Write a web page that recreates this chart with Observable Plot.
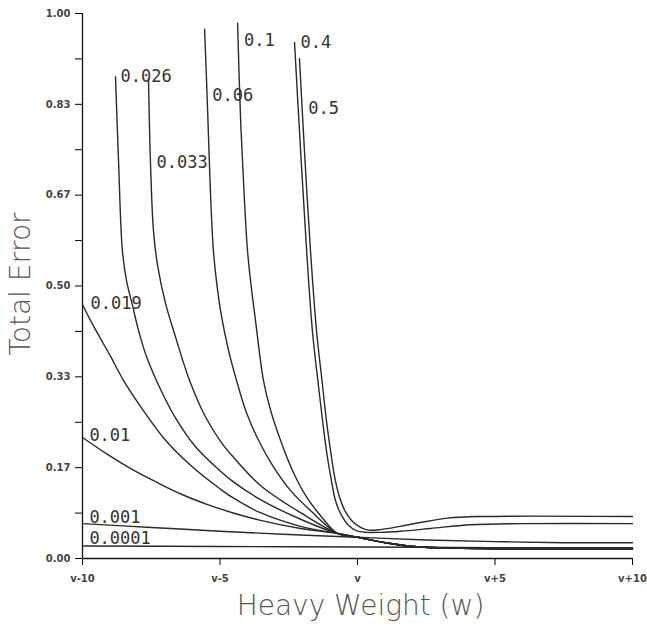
<!DOCTYPE html>
<html>
<head>
<meta charset="utf-8">
<script src="https://cdn.jsdelivr.net/npm/d3@7"></script>
<script src="https://cdn.jsdelivr.net/npm/@observablehq/plot@0.6"></script>
<style>
  html, body { margin: 0; padding: 0; background: #fff; }
</style>
</head>
<body>
<div id="chart"></div>
<script>
// Learning-rate labels of each curve
const rates = ["0.0001", "0.001", "0.01", "0.019", "0.026", "0.033", "0.06", "0.1", "0.4", "0.5"];

// Curve points: [w offset from v, total error]
const c0001 = [[-10,0.023],[-5,0.022],[0,0.021],[5,0.020],[10,0.020]];
const c001 = [[-10,0.064],[-7.5,0.057],[-5,0.050],[-2.5,0.044],[0,0.039],[2.5,0.034],[5,0.031],[7.5,0.029],[10,0.029]];
const c01 = [[-10,0.222],[-9.09,0.191],[-8.18,0.163],[-7.27,0.139],[-6.36,0.117],[-5.45,0.099],[-4.55,0.084],[-3.53,0.070],[-2.07,0.055],[-0.73,0.046],[0,0.039],[1.02,0.029],[2.04,0.022],[3.4,0.019],[10,0.018]];
const c019 = [[-10,0.466],[-9.71,0.437],[-9.35,0.404],[-8.98,0.371],[-8.51,0.327],[-7.71,0.266],[-6.98,0.217],[-6.07,0.171],[-4.98,0.127],[-4.55,0.112],[-3.53,0.084],[-2.07,0.059],[-0.73,0.046],[0,0.039],[1.02,0.029],[2.04,0.022],[3.4,0.019],[10,0.018]];
const c026 = [[-8.8,0.884],[-8.69,0.73],[-8.55,0.565],[-8.4,0.51],[-8.18,0.464],[-7.96,0.418],[-7.67,0.37],[-7.16,0.31],[-6.62,0.258],[-5.89,0.205],[-4.98,0.16],[-4.55,0.142],[-3.53,0.108],[-2.07,0.072],[-0.73,0.046],[0,0.039],[1.02,0.029],[2.04,0.022],[3.4,0.019],[10,0.018]];
const c033 = [[-7.6,0.881],[-7.53,0.73],[-7.42,0.602],[-7.27,0.538],[-6.98,0.468],[-6.62,0.407],[-6.11,0.327],[-5.53,0.26],[-4.98,0.215],[-4.55,0.188],[-3.53,0.134],[-2.07,0.084],[-0.73,0.046],[0,0.039],[1.02,0.029],[2.04,0.022],[3.4,0.019],[10,0.018]];
const c06 = [[-5.56,0.971],[-5.45,0.822],[-5.35,0.675],[-5.24,0.565],[-5.13,0.51],[-4.95,0.446],[-4.69,0.382],[-4.4,0.327],[-4.04,0.268],[-3.6,0.217],[-3.09,0.171],[-2.44,0.125],[-1.71,0.088],[-0.73,0.046],[0,0.039],[1.02,0.029],[2.04,0.022],[3.4,0.019],[10,0.018]];
const c1 = [[-4.36,0.982],[-4.25,0.804],[-4.11,0.657],[-4.0,0.565],[-3.89,0.51],[-3.71,0.437],[-3.42,0.327],[-3.16,0.272],[-2.8,0.217],[-2.36,0.161],[-1.89,0.116],[-1.35,0.079],[-0.73,0.046],[0,0.039],[1.02,0.029],[2.04,0.022],[3.4,0.019],[10,0.018]];
const c4 = [[-2.29,0.947],[-2.07,0.749],[-1.85,0.565],[-1.64,0.418],[-1.42,0.317],[-1.27,0.253],[-1.13,0.198],[-0.98,0.152],[-0.8,0.106],[-0.58,0.079],[-0.33,0.061],[-0.04,0.051],[0.33,0.048],[0.84,0.048],[1.56,0.05],[2.65,0.055],[4.11,0.062],[5.93,0.064],[10,0.064]];
const c5 = [[-2.11,0.917],[-1.93,0.749],[-1.71,0.565],[-1.49,0.418],[-1.27,0.317],[-1.13,0.253],[-0.98,0.198],[-0.84,0.152],[-0.65,0.112],[-0.44,0.086],[-0.18,0.068],[0.11,0.057],[0.4,0.052],[0.84,0.053],[1.56,0.059],[2.29,0.066],[3.27,0.074],[4.47,0.077],[10,0.077]];
const curves = [c0001, c001, c01, c019, c026, c033, c06, c1, c4, c5];

// Curve label positions
const labelX = [-9.75, -9.75, -9.75, -9.71, -8.62, -7.31, -5.28, -4.13, -2.07, -1.79];
const labelY = [0.037, 0.075, 0.226, 0.468, 0.884, 0.727, 0.85, 0.95, 0.947, 0.825];

// Axis ticks
const xTicks = [-10, -5, 0, 5, 10];
const xTickLabels = ["v-10", "v-5", "v", "v+5", "v+10"];
const yTicks = [0, 1/6, 2/6, 3/6, 4/6, 5/6, 1];
const yTickLabels = ["0.00", "0.17", "0.33", "0.50", "0.67", "0.83", "1.00"];
const yMinorTicks = [1/12, 3/12, 5/12, 7/12, 9/12, 11/12];

const rows = curves.flatMap((pts, i) => pts.map(([x, y]) => ({rate: rates[i], x, y})));
const labels = rates.map((r, i) => ({text: r, x: labelX[i], y: labelY[i]}));

const chart = Plot.plot({
  width: 647,
  height: 626,
  marginLeft: 82,
  marginRight: 15,
  marginTop: 13,
  marginBottom: 68,
  style: {fontFamily: "DejaVu Sans", background: "#fff"},
  x: {domain: [-10, 10], label: null},
  y: {domain: [0, 1], label: null},
  marks: [
    Plot.axisX(xTicks, {tickSize: 7, tickPadding: 9, fontSize: 10, fontWeight: "bold", fill: "#444", label: null,
      tickFormat: d => xTickLabels[xTicks.indexOf(d)]}),
    Plot.axisY(yTicks, {tickSize: 7, tickPadding: 5, fontSize: 10, fontWeight: "bold", fill: "#444", label: null,
      tickFormat: d => yTickLabels[yTicks.indexOf(d)]}),
    Plot.axisY(yMinorTicks, {tickSize: 7, label: null, tickFormat: () => ""}),
    Plot.ruleX([-10], {stroke: "#111", strokeWidth: 1.3}),
    Plot.ruleY([0], {stroke: "#111", strokeWidth: 1.3}),
    Plot.line(rows, {x: "x", y: "y", z: "rate", stroke: "#2a2a2a", strokeWidth: 1.4, curve: "catmull-rom"}),
    Plot.text(labels, {x: "x", y: "y", text: "text", textAnchor: "start", lineAnchor: "middle",
      fontFamily: "DejaVu Sans Mono", fontSize: 17, fill: "#333"}),
    Plot.text(["Heavy Weight (w)"], {frameAnchor: "bottom", lineAnchor: "middle", dy: 48, dx: 3,
      fontSize: 28, fontWeight: 200, fill: "#555"}),
    Plot.text(["Total Error"], {frameAnchor: "left", textAnchor: "middle", rotate: -90, dx: -61, dy: -2, lineAnchor: "middle",
      fontSize: 28, fontWeight: 200, fill: "#555", style: "letter-spacing:5px"})
  ]
});
document.getElementById("chart").appendChild(chart);
</script>
</body>
</html>
